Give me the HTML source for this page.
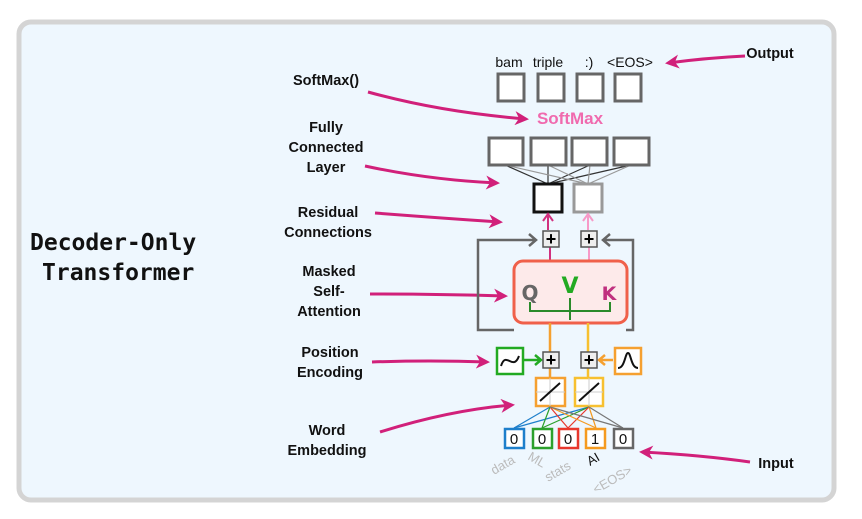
<!DOCTYPE html>
<html><head><meta charset="utf-8"><style>
html,body{margin:0;padding:0;background:#fff;}
svg{display:block;}
.lb{font-family:"Liberation Sans",sans-serif;font-weight:bold;font-size:14.5px;fill:#111;text-anchor:middle;}
.out{font-family:"Liberation Sans",sans-serif;font-size:14px;fill:#111;text-anchor:middle;}
</style></head><body>
<svg width="862" height="519" viewBox="0 0 862 519" xmlns="http://www.w3.org/2000/svg">
<defs>
<marker id="pk" markerWidth="14" markerHeight="14" refX="11" refY="7" orient="auto" markerUnits="userSpaceOnUse"><path d="M0,0 L14,7 L0,14 L4,7z" fill="#d1207a"/></marker>
</defs>
<rect x="19" y="22" width="815" height="478" rx="12" fill="#eef7fe" stroke="#d4d4d4" stroke-width="5"/>
<text x="30" y="250" font-family="DejaVu Sans Mono, Liberation Mono, monospace" font-weight="bold" font-size="23" fill="#111">Decoder-Only</text>
<text x="42" y="280" font-family="DejaVu Sans Mono, Liberation Mono, monospace" font-weight="bold" font-size="23" fill="#111">Transformer</text>

<g class="lb">
<text x="770" y="58">Output</text>
<text x="326" y="85">SoftMax()</text>
<text x="326" y="132">Fully</text><text x="326" y="152">Connected</text><text x="326" y="172">Layer</text>
<text x="328" y="217">Residual</text><text x="328" y="237">Connections</text>
<text x="329" y="276">Masked</text><text x="329" y="296">Self-</text><text x="329" y="316">Attention</text>
<text x="330" y="357">Position</text><text x="330" y="377">Encoding</text>
<text x="327" y="435">Word</text><text x="327" y="455">Embedding</text>
<text x="776" y="468">Input</text>
</g>
<g stroke="#d1207a" stroke-width="3" fill="none" marker-end="url(#pk)">
<path d="M745,56 Q705,58 668,63"/>
<path d="M368,92 Q440,112 526,119"/>
<path d="M365,166 Q430,180 497,183"/>
<path d="M375,213 Q440,218 500,222"/>
<path d="M370,294 Q440,294 505,296"/>
<path d="M372,362 Q430,360 487,362"/>
<path d="M380,432 Q450,410 512,405"/>
<path d="M750,462 Q700,455 642,452"/>
</g>

<g class="out"><text x="509" y="67">bam</text><text x="548" y="67">triple</text><text x="589" y="67">:)</text><text x="630" y="67">&lt;EOS&gt;</text></g>
<g fill="#fff" stroke="#666" stroke-width="3">
<rect x="498" y="74" width="26" height="27"/><rect x="538" y="74" width="26" height="27"/><rect x="577" y="74" width="26" height="27"/><rect x="615" y="74" width="26" height="27"/>
</g>
<text x="570" y="124" font-family="Liberation Sans,sans-serif" font-weight="bold" font-size="17" fill="#f06aae" text-anchor="middle">SoftMax</text>
<g stroke-width="1.2">
<line x1="505" y1="165" x2="548" y2="184" stroke="#333"/><line x1="548" y1="165" x2="548" y2="184" stroke="#333"/><line x1="590" y1="165" x2="548" y2="184" stroke="#333"/><line x1="631" y1="165" x2="548" y2="184" stroke="#333"/>
<line x1="505" y1="165" x2="588" y2="184" stroke="#999"/><line x1="548" y1="165" x2="588" y2="184" stroke="#999"/><line x1="590" y1="165" x2="588" y2="184" stroke="#999"/><line x1="631" y1="165" x2="588" y2="184" stroke="#999"/>
</g>
<g fill="#fff" stroke="#666" stroke-width="3">
<rect x="489" y="138" width="34" height="27"/><rect x="531" y="138" width="35" height="27"/><rect x="572" y="138" width="35" height="27"/><rect x="614" y="138" width="35" height="27"/>
</g>
<rect x="534" y="184" width="28" height="28" fill="#fff" stroke="#111" stroke-width="3"/>
<rect x="574" y="184" width="28" height="28" fill="#fff" stroke="#999" stroke-width="3"/>
<g stroke-width="2" fill="none">
<path d="M548,230 V215 M543,221 L548,214 L553,221" stroke="#d1307f"/>
<path d="M588,230 V215 M583,221 L588,214 L593,221" stroke="#f79ac8"/>
<line x1="550" y1="247" x2="550" y2="261" stroke="#d1307f"/>
<line x1="589" y1="247" x2="589" y2="261" stroke="#f79ac8"/>
</g>
<g fill="none" stroke="#666" stroke-width="2.5">
<path d="M514,330 H478 V240 H536 M529,234 L536,240 L529,246"/>
<path d="M626,330 H633 V240 H603 M610,234 L603,240 L610,246"/>
</g>
<g font-family="Liberation Sans,sans-serif" font-weight="bold" font-size="18" text-anchor="middle">
<rect x="543" y="231" width="16" height="16" fill="#eee" stroke="#555" stroke-width="1.5"/><text x="551" y="245">+</text>
<rect x="581" y="231" width="16" height="16" fill="#eee" stroke="#555" stroke-width="1.5"/><text x="589" y="245">+</text>
</g>
<rect x="514" y="261" width="113" height="62" rx="9" fill="#fdeaea" stroke="#f0604a" stroke-width="3"/>
<text x="530" y="300" font-family="DejaVu Sans,sans-serif" font-weight="bold" font-size="20" fill="#666" text-anchor="middle">Q</text>
<text x="570" y="293" font-family="DejaVu Sans,sans-serif" font-weight="bold" font-size="22" fill="#22aa22" text-anchor="middle">V</text>
<text x="609" y="300" font-family="DejaVu Sans,sans-serif" font-weight="bold" font-size="19" fill="#c0307f" text-anchor="middle">K</text>
<path d="M530,302 V311 H610 V302 M570,298 V320" fill="none" stroke="#2a8a2a" stroke-width="2"/>
<g stroke-width="2.5" fill="none">
<line x1="550" y1="323" x2="550" y2="352" stroke="#f5a030"/><line x1="588" y1="323" x2="588" y2="352" stroke="#f7c030"/>
<line x1="550" y1="368" x2="550" y2="378" stroke="#f5a030"/><line x1="588" y1="368" x2="588" y2="378" stroke="#f7c030"/>
<path d="M523,360 H540 M535,355 L541,360 L535,365" stroke="#22aa22"/>
<path d="M613,360 H600 M605,355 L599,360 L605,365" stroke="#f5a030"/>
</g>
<g font-family="Liberation Sans,sans-serif" font-weight="bold" font-size="18" text-anchor="middle">
<rect x="543" y="352" width="16" height="16" fill="#eee" stroke="#555" stroke-width="1.5"/><text x="551" y="366">+</text>
<rect x="581" y="352" width="16" height="16" fill="#eee" stroke="#555" stroke-width="1.5"/><text x="589" y="366">+</text>
</g>
<rect x="497" y="348" width="26" height="26" fill="#fff" stroke="#22aa22" stroke-width="2.5"/>
<path d="M501,366 C506,350 513,372 519,356" fill="none" stroke="#111" stroke-width="2"/>
<rect x="615" y="348" width="26" height="26" fill="#fff" stroke="#f5a030" stroke-width="2.5"/>
<path d="M618,368 C625,368 625,353 628,353 C631,353 631,368 638,368" fill="none" stroke="#111" stroke-width="2"/>
<rect x="536" y="378" width="29" height="28" fill="#fff" stroke="#f5a030" stroke-width="2.5"/>
<rect x="575" y="378" width="28" height="28" fill="#fff" stroke="#f7c030" stroke-width="2.5"/>
<g stroke="#ccc" stroke-width="1"><line x1="550" y1="378" x2="550" y2="406"/><line x1="536" y1="392" x2="565" y2="392"/><line x1="589" y1="378" x2="589" y2="406"/><line x1="575" y1="392" x2="603" y2="392"/></g>
<line x1="540" y1="401" x2="560" y2="383" stroke="#111" stroke-width="2"/>
<line x1="579" y1="401" x2="599" y2="383" stroke="#111" stroke-width="2"/>
<g stroke-width="1.2">
<line x1="514" y1="428" x2="550" y2="407" stroke="#1e7fcb"/><line x1="514" y1="428" x2="589" y2="407" stroke="#1e7fcb"/>
<line x1="542" y1="428" x2="550" y2="407" stroke="#2ca02c"/><line x1="542" y1="428" x2="589" y2="407" stroke="#2ca02c"/>
<line x1="568" y1="428" x2="550" y2="407" stroke="#e8372c"/><line x1="568" y1="428" x2="589" y2="407" stroke="#e8372c"/>
<line x1="596" y1="428" x2="550" y2="407" stroke="#f59a1f"/><line x1="596" y1="428" x2="589" y2="407" stroke="#f59a1f"/>
<line x1="623" y1="428" x2="550" y2="407" stroke="#777"/><line x1="623" y1="428" x2="589" y2="407" stroke="#777"/>
</g>
<g fill="#fff" stroke-width="2.5">
<rect x="505" y="429" width="19" height="19" stroke="#1e7fcb"/><rect x="533" y="429" width="19" height="19" stroke="#2ca02c"/><rect x="559" y="429" width="19" height="19" stroke="#e8372c"/><rect x="586" y="429" width="19" height="19" stroke="#f59a1f"/><rect x="614" y="429" width="19" height="19" stroke="#666"/>
</g>
<g font-family="Liberation Sans,sans-serif" font-size="15" fill="#111" text-anchor="middle">
<text x="514" y="444">0</text><text x="542" y="444">0</text><text x="568" y="444">0</text><text x="595" y="444">1</text><text x="623" y="444">0</text>
</g>
<g font-family="Liberation Sans,sans-serif" font-size="13" fill="#bbb">
<text transform="translate(494,475) rotate(-30)">data</text>
<text transform="translate(527,459) rotate(30)">ML</text>
<text transform="translate(548,482) rotate(-30)">stats</text>
<text transform="translate(590,466) rotate(-30)" fill="#111">AI</text>
<text transform="translate(596,494) rotate(-30)">&lt;EOS&gt;</text>
</g>
</svg>
</body></html>
